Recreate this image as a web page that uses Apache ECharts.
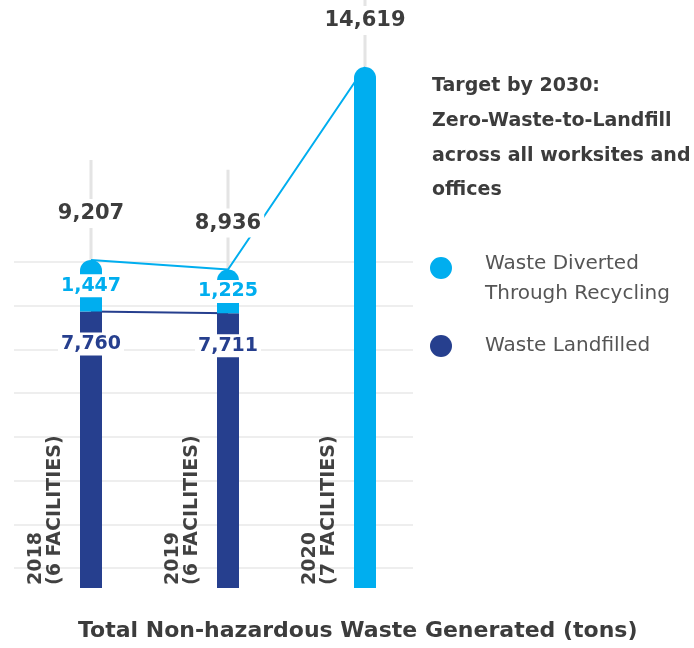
<!DOCTYPE html>
<html>
<head>
<meta charset="utf-8">
<script src="https://cdn.jsdelivr.net/npm/echarts@6/dist/echarts.min.js"></script>
<style>
  html, body { margin: 0; padding: 0; background: #ffffff; }
  #chart { width: 694px; height: 648px; }
</style>
</head>
<body>
<div id="chart"></div>
<script>
// Yearly non-hazardous waste, tons
const years = ['2018', '2019', '2020'];
const facilities = ['6 FACILITIES', '6 FACILITIES', '7 FACILITIES'];
const landfilled = [7760, 7711, null];
const diverted = [1447, 1225, 14619];

const CYAN = '#00aeef';
const NAVY = '#263f8e';
const FONT = '"DejaVu Sans", sans-serif';
const GUIDE_EXTRA = 2800; // how far the thin guide runs above each bar

// circle marker sitting at the top of a taller box, so a two-line legend
// caption lines up with its first line
const TALL_DOT = 'path://M0,11 A11,11 0 1,1 22,11 A11,11 0 1,1 0,11 Z M11,44 L11.01,44 Z';

const totals = years.map((_, i) => diverted[i] + (landfilled[i] || 0));
const fmt = v => Number(v).toLocaleString('en-US');
const hasSplit = i => landfilled[i] != null;

const chart = echarts.init(document.getElementById('chart'), null, { renderer: 'canvas' });

chart.setOption({
  animation: false,
  backgroundColor: '#ffffff',
  title: {
    text: 'Total Non-hazardous Waste Generated (tons)',
    left: 78,
    top: 620,
    padding: 0,
    textStyle: { fontFamily: FONT, fontWeight: 'bold', fontSize: 22, color: '#3c3c3c' }
  },
  graphic: [{
    type: 'text',
    left: 432,
    top: 69,
    style: {
      text: 'Target by 2030:\nZero-Waste-to-Landfill\nacross all worksites and\noffices',
      font: 'bold 19px ' + FONT,
      lineHeight: 34.7,
      fill: '#3c3c3c'
    }
  }],
  legend: [{
    data: ['Waste Diverted Through Recycling'],
    orient: 'vertical',
    left: 430,
    top: 249,
    padding: 0,
    icon: TALL_DOT,
    itemWidth: 22,
    itemHeight: 44,
    formatter: () => 'Waste Diverted\nThrough Recycling',
    textStyle: { fontFamily: FONT, fontSize: 20, color: '#555555', lineHeight: 30, padding: [0, 0, 0, 28] }
  }, {
    data: ['Waste Landfilled'],
    orient: 'vertical',
    left: 430,
    top: 331,
    padding: 0,
    icon: 'circle',
    itemWidth: 22,
    itemHeight: 22,
    textStyle: { fontFamily: FONT, fontSize: 20, color: '#555555', lineHeight: 30, padding: [0, 0, 0, 28] }
  }],
  grid: [
    { left: 22.5, right: 260.5, top: 0, bottom: 60 },
    { left: 14, right: 281, top: 262, bottom: 80 }
  ],
  xAxis: [
    { type: 'category', data: years, gridIndex: 0, show: false },
    { type: 'category', data: years, gridIndex: 0, show: false },
    { type: 'value', gridIndex: 1, show: false, min: 0, max: 1 }
  ],
  yAxis: [
    { type: 'value', gridIndex: 0, min: 0, max: 16500, show: false, splitLine: { show: false } },
    {
      type: 'value', gridIndex: 1, min: 0, max: 7, interval: 1,
      axisLine: { show: false }, axisTick: { show: false }, axisLabel: { show: false },
      splitLine: { show: true, lineStyle: { color: '#eeeeee', width: 2 } }
    }
  ],
  series: [
    {
      // thin vertical guides rising above each bar
      type: 'bar',
      xAxisIndex: 1,
      yAxisIndex: 0,
      barWidth: 3,
      silent: true,
      z: 1,
      itemStyle: { color: '#e4e4e4' },
      data: totals.map(t => t + GUIDE_EXTRA)
    },
    {
      name: 'Waste Landfilled',
      type: 'bar',
      stack: 'waste',
      barWidth: 22,
      z: 3,
      itemStyle: { color: NAVY },
      data: landfilled.map(v => v == null ? '-' : v),
      label: {
        show: true,
        position: 'insideTop',
        offset: [0, 16],
        formatter: p => fmt(p.value),
        color: NAVY,
        fontFamily: FONT,
        fontWeight: 'bold',
        fontSize: 19,
        backgroundColor: '#ffffff',
        padding: [2, 3, 2, 3]
      }
    },
    {
      name: 'Waste Diverted Through Recycling',
      type: 'bar',
      stack: 'waste',
      barWidth: 22,
      z: 3,
      itemStyle: { color: CYAN, borderRadius: [11, 11, 0, 0] },
      data: diverted.map((v, i) => ({
        value: v,
        label: { show: hasSplit(i) }
      })),
      label: {
        position: 'inside',
        formatter: p => fmt(p.value),
        color: CYAN,
        fontFamily: FONT,
        fontWeight: 'bold',
        fontSize: 19,
        backgroundColor: '#ffffff',
        padding: [2, 3, 2, 3]
      }
    },
    {
      // links the landfilled tops
      type: 'line',
      z: 2,
      silent: true,
      symbol: 'none',
      lineStyle: { color: NAVY, width: 2 },
      data: landfilled.map(v => v == null ? '-' : v)
    },
    {
      // links the bar tops and carries the totals
      type: 'line',
      z: 2,
      silent: true,
      symbol: 'circle',
      symbolSize: 0,
      lineStyle: { color: CYAN, width: 2 },
      data: totals,
      label: {
        show: true,
        position: 'top',
        distance: 32,
        formatter: p => fmt(p.value),
        color: '#3d3d3d',
        fontFamily: FONT,
        fontWeight: 'bold',
        fontSize: 21,
        backgroundColor: '#ffffff',
        padding: [4, 3, 4, 3]
      }
    },
    {
      // rotated year / facility captions beside each bar
      type: 'scatter',
      symbolSize: 0,
      silent: true,
      z: 4,
      data: years.map(() => 0),
      label: {
        show: true,
        position: 'inside',
        rotate: 90,
        align: 'left',
        verticalAlign: 'middle',
        offset: [3, -45],
        formatter: p => years[p.dataIndex] + '\n(' + facilities[p.dataIndex] + ')',
        color: '#111111',
        fontFamily: FONT,
        fontWeight: 'bold',
        fontSize: 19,
        lineHeight: 19
      }
    }
  ]
});
</script>
</body>
</html>
